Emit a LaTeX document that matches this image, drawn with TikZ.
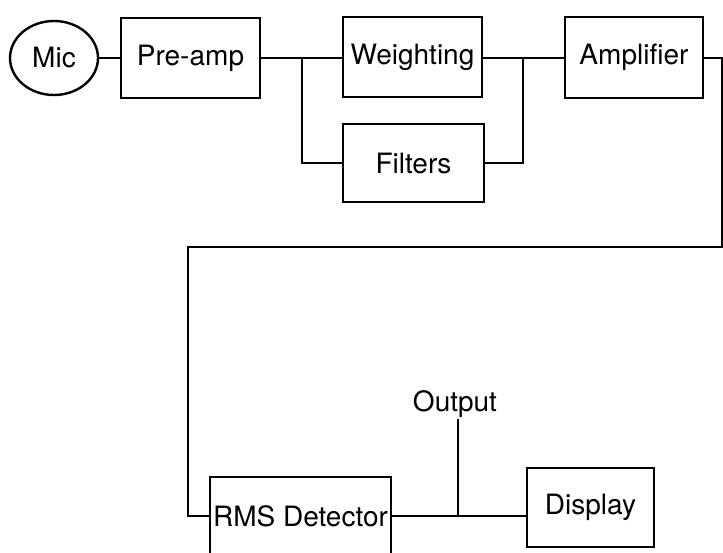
\documentclass[tikz,border=0pt]{standalone}
\usepackage{fontspec}
\setmainfont{TeX Gyre Heros}
\usetikzlibrary{shapes.geometric}
\begin{document}
\begin{tikzpicture}[x=1pt,y=-1pt,
  blk/.style={draw, line width=2.4pt, inner sep=0pt, font=\fontsize{28}{30}\selectfont},
  wire/.style={draw, line width=1.4pt}]
\useasboundingbox (0,0) rectangle (723,552);
\node[blk, ellipse, minimum width=88pt, minimum height=74pt] (mic) at (54,58) {Mic};
\node[blk, rectangle, minimum width=139pt, minimum height=80pt] (pre) at (190.5,58) {Pre-amp};
\node[blk, rectangle, minimum width=139pt, minimum height=80pt] (wgt) at (412.5,57) {Weighting};
\node[blk, rectangle, minimum width=141pt, minimum height=78pt] (fil) at (413.5,163) {Filters};
\node[blk, rectangle, minimum width=138pt, minimum height=81pt] (amp) at (634,57.5) {Amplifier};
\node[blk, rectangle, minimum width=181pt, minimum height=78pt] (rms) at (300.5,516) {RMS Detector};
\node[blk, rectangle, minimum width=127pt, minimum height=79pt] (dsp) at (590.5,507.5) {Display};
\node[font=\fontsize{28}{30}\selectfont, inner sep=1pt] (out) at (455,404) {Output};
\coordinate (j1) at (302,58);
\coordinate (j2) at (523,58);
\coordinate (r1) at (722,58);
\coordinate (r2) at (722,247);
\coordinate (l1) at (188,247);
\coordinate (l2) at (188,516);
\coordinate (j3) at (458,516);
\draw[wire] (mic.east) -- (pre.west |- mic.east);
\draw[wire] (pre.east |- j1) -- (wgt.west |- j1);
\draw[wire] (j1) |- (fil.west);
\draw[wire] (wgt.east |- j2) -- (amp.west |- j2);
\draw[wire] (fil.east) -| (j2);
\draw[wire] (amp.east |- r1) -- (r1) -- (r2) -- (l1) -- (l2) -- (rms.west |- l2);
\draw[wire] (rms.east |- j3) -- (dsp.west |- j3);
\draw[wire] (j3) -- (j3 |- out.south);
\end{tikzpicture}
\end{document}
